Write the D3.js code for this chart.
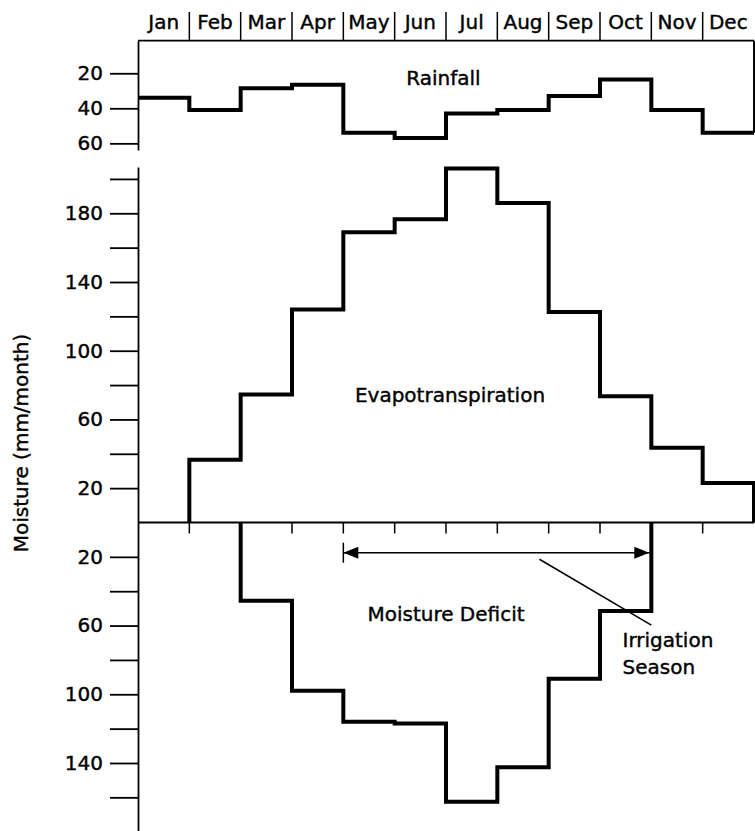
<!DOCTYPE html>
<html>
<head>
<meta charset="utf-8">
<script src="https://cdn.jsdelivr.net/npm/d3@7"></script>
<style>
  html, body { margin: 0; padding: 0; background: #fff; }
  svg { display: block; }
  text { font-family: "DejaVu Sans", sans-serif; font-size: 20px; fill: #000; stroke: #000; stroke-width: 0.4px; }
</style>
</head>
<body>
<div id="app"></div>
<script>
const months = ['Jan', 'Feb', 'Mar', 'Apr', 'May', 'Jun', 'Jul', 'Aug', 'Sep', 'Oct', 'Nov', 'Dec'];

// mm/month
const rainfall = [34, 41, 28.5, 26.5, 54, 57, 43, 41, 33, 23.5, 41, 54];
const evapotranspiration = [0, 36.5, 74.5, 124, 169, 176.5, 206, 186, 122.5, 73.5, 43.5, 23];
const moistureDeficit = [0, 0, 45.5, 98, 116, 117, 162.5, 142.5, 91, 51.5, 0, 0];

const rainTicks = [20, 40, 60];
const etTicks = [20, 40, 60, 80, 100, 120, 140, 160, 180, 200];
const deficitTicks = [20, 40, 60, 80, 100, 120, 140, 160];
const labelledTicks = [20, 60, 100, 140, 180];

const width = 755;
const height = 831;

const svg =
  d3.select('#app').append('svg')
    .attr('width', width)
    .attr('height', height);

const xScale =
  d3.scaleLinear()
    .domain([0, 12])
    .range([138, 754]);

// rainfall panel hangs down from the top of the box
const rainScale =
  d3.scaleLinear()
    .domain([1.4, 63.8])
    .range([40.7, 150]);

const etScale =
  d3.scaleLinear()
    .domain([0, 207])
    .range([522.5, 166.9]);

const deficitScale =
  d3.scaleLinear()
    .domain([0, 180])
    .range([522.5, 831.7]);

const tickFormat = d => labelledTicks.includes(d) ? d : '';

function drawAxis(scale, ticks, format) {
  const g = svg.append('g')
    .attr('transform', 'translate(' + xScale(0) + ',0)')
    .call(d3.axisLeft(scale)
      .tickValues(ticks)
      .tickSize(28)
      .tickSizeOuter(0)
      .tickPadding(7)
      .tickFormat(format));
  g.select('.domain').attr('stroke-width', 1.8);
  g.selectAll('.tick line').attr('stroke-width', 1.8);
  g.selectAll('.tick text')
    .attr('font-family', '"DejaVu Sans", sans-serif')
    .attr('font-size', 20)
    .attr('fill', '#000');
  return g;
}

drawAxis(rainScale, rainTicks, d => d);
drawAxis(etScale, etTicks, tickFormat);
drawAxis(deficitScale, deficitTicks, tickFormat);

// month header
svg.append('g')
  .selectAll('text')
  .data(months)
  .enter()
  .append('text')
  .attr('x', (d, i) => xScale(i + 0.5))
  .attr('y', 29)
  .attr('text-anchor', 'middle')
  .text(d => d);

svg.append('g')
  .selectAll('line')
  .data(d3.range(1, 12))
  .enter()
  .append('line')
  .attr('x1', d => xScale(d))
  .attr('x2', d => xScale(d))
  .attr('y1', 12)
  .attr('y2', rainScale(1.4))
  .attr('stroke', '#000')
  .attr('stroke-width', 1.5);

// rainfall box: top edge and right edge
svg.append('line')
  .attr('x1', xScale(0)).attr('x2', xScale(12))
  .attr('y1', rainScale(1.4)).attr('y2', rainScale(1.4))
  .attr('stroke', '#000').attr('stroke-width', 1.8);

svg.append('line')
  .attr('x1', xScale(12)).attr('x2', xScale(12))
  .attr('y1', rainScale(1.4)).attr('y2', rainScale(rainfall[11]))
  .attr('stroke', '#000').attr('stroke-width', 2);

// zero line between evapotranspiration and deficit
svg.append('line')
  .attr('x1', xScale(0)).attr('x2', xScale(12))
  .attr('y1', etScale(0)).attr('y2', etScale(0))
  .attr('stroke', '#000').attr('stroke-width', 1.8);

svg.append('g')
  .selectAll('line')
  .data(d3.range(1, 12))
  .enter()
  .append('line')
  .attr('x1', d => xScale(d))
  .attr('x2', d => xScale(d))
  .attr('y1', etScale(0))
  .attr('y2', etScale(0) + 11)
  .attr('stroke', '#000')
  .attr('stroke-width', 1.5);

// step outlines
function stepPoints(values, from, to, closeTo) {
  const pts = [];
  if (closeTo !== undefined) pts.push([from, closeTo]);
  for (let i = from; i < to; i++) pts.push([i, values[i]]);
  pts.push([to, values[to - 1]]);
  if (closeTo !== undefined) pts.push([to, closeTo]);
  return pts;
}

function stepLine(scale) {
  return d3.line()
    .x(d => xScale(d[0]))
    .y(d => scale(d[1]))
    .curve(d3.curveStepAfter);
}

svg.append('path')
  .datum(stepPoints(rainfall, 0, 12))
  .attr('d', stepLine(rainScale))
  .attr('fill', 'none').attr('stroke', '#000')
  .attr('stroke-width', 4).attr('stroke-linejoin', 'miter');

svg.append('path')
  .datum(stepPoints(evapotranspiration, 1, 12, 0))
  .attr('d', stepLine(etScale))
  .attr('fill', 'none').attr('stroke', '#000')
  .attr('stroke-width', 4).attr('stroke-linejoin', 'miter');

svg.append('path')
  .datum(stepPoints(moistureDeficit, 2, 10, 0))
  .attr('d', stepLine(deficitScale))
  .attr('fill', 'none').attr('stroke', '#000')
  .attr('stroke-width', 4).attr('stroke-linejoin', 'miter');

// irrigation season arrow (May to end of Oct)
const arrowY = deficitScale(17.6);
const x0 = xScale(4);
const x1 = xScale(10);

svg.append('line')
  .attr('x1', x0).attr('x2', x1)
  .attr('y1', arrowY).attr('y2', arrowY)
  .attr('stroke', '#000').attr('stroke-width', 1.5);

svg.append('line')
  .attr('x1', x0).attr('x2', x0)
  .attr('y1', arrowY - 10).attr('y2', arrowY + 10)
  .attr('stroke', '#000').attr('stroke-width', 1.5);

svg.append('path')
  .attr('d', `M${x0},${arrowY} L${x0 + 15},${arrowY - 6} L${x0 + 15},${arrowY + 6} Z`)
  .attr('fill', '#000');

svg.append('path')
  .attr('d', `M${x1 - 2},${arrowY} L${x1 - 17},${arrowY - 6} L${x1 - 17},${arrowY + 6} Z`)
  .attr('fill', '#000');

svg.append('line')
  .attr('x1', xScale(7.82)).attr('y1', deficitScale(21.4))
  .attr('x2', xScale(10)).attr('y2', deficitScale(59.7))
  .attr('stroke', '#000').attr('stroke-width', 1.5);

// labels
svg.append('text').attr('x', 443.5).attr('y', 85).attr('text-anchor', 'middle').text('Rainfall');
svg.append('text').attr('x', 450).attr('y', 401.5).attr('text-anchor', 'middle').text('Evapotranspiration');
svg.append('text').attr('x', 446).attr('y', 620.5).attr('text-anchor', 'middle').text('Moisture Deficit');
svg.append('text').attr('x', 622.5).attr('y', 646.5).text('Irrigation');
svg.append('text').attr('x', 622.5).attr('y', 674).text('Season');

svg.append('text')
  .attr('transform', 'translate(27.5,443) rotate(-90)')
  .attr('text-anchor', 'middle')
  .text('Moisture (mm/month)');
</script>
</body>
</html>
